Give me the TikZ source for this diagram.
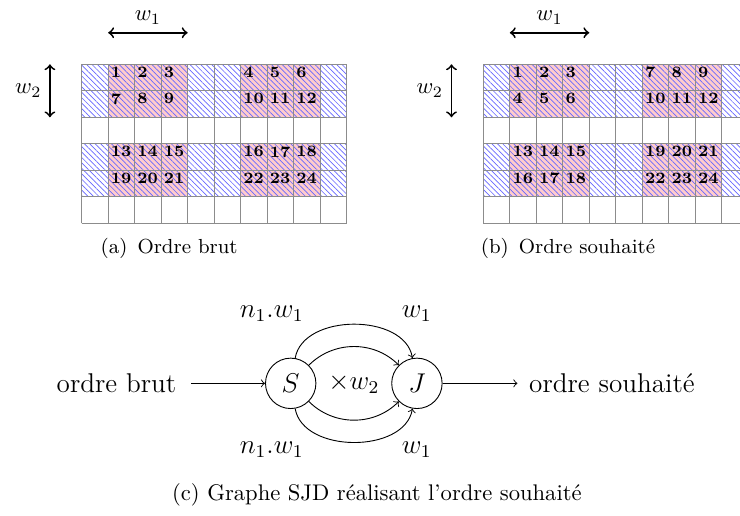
\documentclass[tikz,border=0pt]{standalone}
\usetikzlibrary{patterns.meta}
\tikzset{
  pinkcell/.style={fill=red!20},
  hatchcell/.style={pattern={Lines[angle=-45,distance=1.7pt,line width=0.3pt]}, pattern color=blue!60},
  gridline/.style={gray!90, line width=0.5pt},
  numlabel/.style={anchor=north west, inner sep=1pt, font=\scriptsize\bfseries},
  dimarrow/.style={thick, <->},
  proc/.style={draw, circle, minimum size=22.3pt, inner sep=0pt, font=\large},
  flow/.style={->},
}

\begin{document}
\begin{tikzpicture}[x=0.412cm, y=0.412cm]
	%%%%% START %%%%%
	\useasboundingbox (-3.083,-11.045) rectangle (24.842,8.426);
	
	% les deux grilles
	\foreach \gx/\p in {0/a,15.155/b} {
		\begin{scope}[shift={(\gx,0)}]
			\fill[pinkcell] (1,4) rectangle (4,6);
			\fill[pinkcell] (6,4) rectangle (9,6);
			\fill[pinkcell] (1,1) rectangle (4,3);
			\fill[pinkcell] (6,1) rectangle (9,3);
			\path[hatchcell] (0,4) rectangle (10,6);
			\path[hatchcell] (0,1) rectangle (10,3);
			\draw[gridline, step={(1,1)}] (0,0) grid (10,6);
			\draw[dimarrow] (1,7.19) -- node[above] (wun\p) {$w_1$} (4,7.19);
			\draw[dimarrow] (-1.2,4) -- node[left] (wdeux\p) {$w_2$} (-1.2,6);
		\end{scope}
	}
	
	% ordre brut
	\foreach \r/\y in {0/6,1/5,2/3,3/2}
		\foreach \c/\x in {1/1,2/2,3/3,4/6,5/7,6/8} {
			\pgfmathtruncatemacro\n{6*\r+\c}
			\node[numlabel] (na\n) at (\x,\y) {\n};
		}
	
	% ordre souhaite
	\foreach \r/\y in {0/6,1/5,2/3,3/2}
		\foreach \c/\x in {1/1,2/2,3/3,4/6,5/7,6/8} {
			\pgfmathtruncatemacro\n{12*floor(\r/2)+3*mod(\r,2)+\c+3*(\c>3)}
			\node[numlabel] (nb\n) at (15.155+\x,\y) {\n};
		}
	
	\node[font=\small] (capa) at (3.3,-0.96) {(a)\enspace Ordre brut};
	\node[font=\small] (capb) at (18.35,-0.96) {(b)\enspace Ordre souhaité};
	
	% graphe SJD
	\node[proc] (S) at (7.887,-6.04) {$S$};
	\node[proc] (J) at (12.65,-6.04) {$J$};
	\node[font=\large, inner xsep=6.5pt] (brut) at (1.313,-6.04) {ordre brut};
	\node[font=\large, inner xsep=5pt] (souhait) at (20.01,-6.04) {ordre souhaité};
	\node[font=\large] (fois) at (10.27,-6.04) {$\times w_2$};
	
	\draw[flow] (brut) -- (S);
	\draw[flow] (J) -- (souhait);
	\draw[flow] (S) to[out=80,in=100] (J);
	\draw[flow] (S) to[out=45,in=135] (J);
	\draw[flow] (S) to[out=-45,in=-135] (J);
	\draw[flow] (S) to[out=-80,in=-100] (J);
	
	\node[font=\large] (nwhaut) at (7.17,-3.40) {$n_1.w_1$};
	\node[font=\large] (whaut) at (12.64,-3.40) {$w_1$};
	\node[font=\large] (nwbas) at (7.17,-8.55) {$n_1.w_1$};
	\node[font=\large] (wbas) at (12.64,-8.55) {$w_1$};
	
	\node (capc) at (11.14,-10.26) {(c) Graphe SJD réalisant l'ordre souhaité};
	
	%%%%% END %%%%%
\end{tikzpicture}
\end{document}
